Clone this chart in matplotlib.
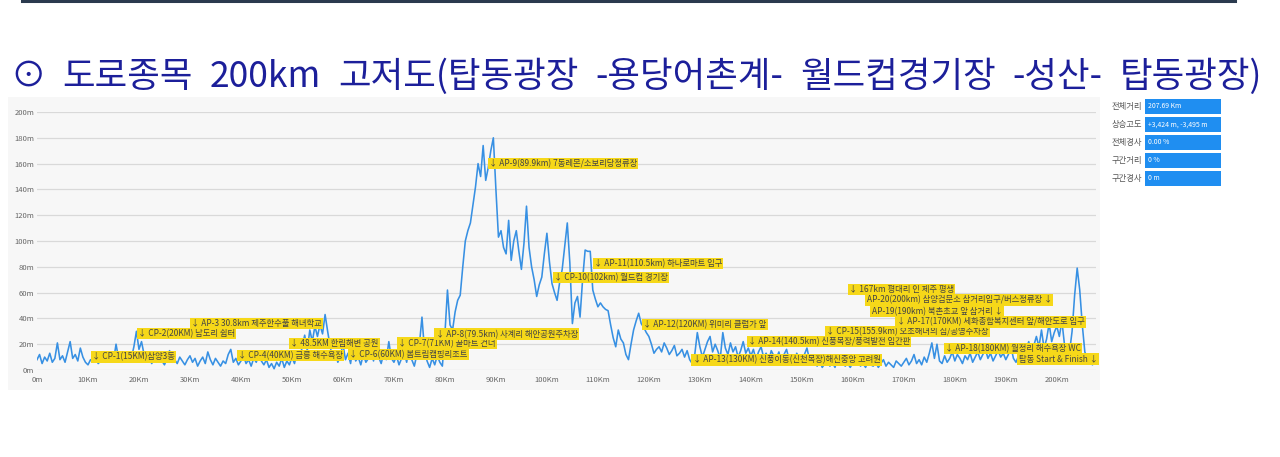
import numpy as np
import matplotlib
matplotlib.use("Agg")
import matplotlib.pyplot as plt
from matplotlib.patches import Rectangle

plt.rcParams['font.family'] = ['Noto Sans CJK KR', 'DejaVu Sans']

TITLE = "⊙ 도로종목 200km 고저도(탑동광장 -용당어촌계- 월드컵경기장 -성산- 탑동광장)"

STEP_KM = 0.5
TOTAL_KM = 207.69
# elevation (m) every 0.5 km
elev = [
    8, 12, 5, 10, 7, 13, 6, 9, 21, 8, 11, 6, 14, 22, 9, 12, 7, 17, 10, 6,        # 0-10
    4, 8, 6, 9, 5, 7, 10, 6, 8, 12, 7, 20, 9, 6, 11, 7, 14, 9, 18, 30,           # 10-20
    16, 22, 12, 8, 10, 5, 9, 6, 11, 7, 4, 9, 15, 6, 8, 5, 10, 7, 4, 8,           # 20-30
    11, 6, 9, 3, 7, 10, 5, 14, 8, 4, 9, 6, 3, 7, 5, 12, 16, 6, 9, 4,             # 30-40
    7, 11, 5, 8, 3, 9, 6, 12, 7, 4, 8, 2, 5, 1, 6, 3, 9, 2, 7, 4,                # 40-50
    10, 5, 14, 8, 18, 27, 15, 31, 22, 34, 26, 35, 28, 43, 30, 18, 9, 14, 6, 11,  # 50-60
    20, 8, 13, 5, 19, 7, 10, 4, 12, 6, 9, 15, 7, 23, 10, 5, 13, 8, 22, 9,        # 60-70
    6, 11, 4, 9, 14, 6, 18, 8, 3, 12, 20, 41, 15, 7, 2, 9, 4, 11, 6, 3,          # 70-80
    28, 62, 35, 31, 45, 54, 58, 80, 100, 108, 114, 128, 142, 160, 150, 174, 147, 157, 170, 180,  # 80-90
    140, 103, 108, 95, 90, 116, 85, 100, 108, 92, 78, 98, 127, 95, 80, 70, 57, 66, 72, 90,      # 90-100
    106, 84, 67, 60, 54, 68, 78, 96, 114, 83, 36, 52, 57, 41, 70, 93, 92, 92, 62, 55,           # 100-110
    49, 52, 49, 47, 46, 35, 25, 18, 31, 24, 21, 12, 8, 20, 31, 38, 44, 36, 33, 29,              # 110-120
    26, 20, 13, 16, 18, 14, 21, 17, 12, 15, 19, 11, 13, 16, 10, 15, 8, 5, 12, 29,               # 120-130
    18, 10, 16, 22, 26, 14, 20, 15, 9, 29, 17, 12, 21, 14, 18, 10, 15, 22, 13, 17,              # 130-140
    11, 16, 8, 14, 18, 10, 13, 7, 15, 11, 9, 14, 6, 12, 16, 8, 11, 5, 13, 9,                    # 140-150
    7, 12, 17, 8, 4, 6, 3, 7, 2, 5, 8, 3, 6, 2, 9, 4, 7, 3, 5, 2,                               # 150-160
    6, 4, 10, 3, 5, 2, 7, 4, 3, 6, 2, 5, 8, 3, 6, 4, 2, 7, 5, 3,                                # 160-170
    6, 9, 4, 7, 12, 5, 8, 4, 10, 6, 13, 21, 9, 20, 7, 5, 11, 6, 9, 14,                          # 170-180
    7, 12, 9, 5, 11, 8, 13, 6, 10, 14, 8, 12, 16, 9, 13, 7, 11, 15, 10, 13,                     # 180-190
    8, 12, 18, 9, 6, 11, 14, 8, 16, 22, 13, 19, 26, 18, 31, 17, 24, 36, 22, 29,                 # 190-200
    34, 26, 38, 20, 18, 14, 30, 58, 79, 62, 35, 14, 9, 6, 4, 7,                                 # 200-207.5
]

y_ticks = list(range(0, 201, 20))
y_tick_labels = [f"{v}m" for v in y_ticks]
x_ticks = list(range(0, 201, 10))
x_tick_labels = ["0m"] + [f"{v}Km" for v in x_ticks[1:]]

label_texts = [
    "↓ CP-1(15KM)삼양3동",
    "↓ CP-2(20KM) 남도리 쉼터",
    "↓ AP-3 30.8km 제주한수풀 해녀학교",
    "↓ CP-4(40KM) 금릉 해수욕장",
    "↓ 48.5KM 한림해변 공원",
    "↓ CP-6(60KM) 봄트림캠핑리조트",
    "↓ CP-7(71KM) 꿀마트 건너",
    "↓ AP-8(79.5km) 사계리 해안공원주차장",
    "↓ AP-9(89.9km) 7동레몬/소보리당정류장",
    "↓ AP-11(110.5km) 하나로마트 입구",
    "↓ CP-10(102km) 월드컵 경기장",
    "↓ AP-12(120KM) 위미리 클럽가 앞",
    "↓ AP-13(130KM) 신풍이동(신천목장)해신중앙 고려원",
    "↓ AP-14(140.5km) 신풍목장/풍력발전 입간판",
    "↓ CP-15(155.9km) 오조해녀의 집/공영주차장",
    "↓ AP-17(170KM) 세화종합복지센터 앞/해안도로 입구",
    "↓ 167km 평대리 인 제주 평생",
    "AP-20(200km) 삼양검문소 삼거리입구/버스정류장 ↓",
    "AP-19(190km) 북촌초교 앞 삼거리 ↓",
    "↓ AP-18(180KM) 월정리 해수욕장 WC",
    "탑동 Start & Finish ↓",
]
label_km = [10.8, 19.8, 30.2, 39.4, 49.6, 61.2, 70.8, 78.2, 88.6, 109.2, 101.4,
            118.9, 128.6, 139.4, 154.8, 168.6, 159.2, 162.7, 163.7, 178.1, 192.5]
label_m = [10.3, 28.4, 36.2, 11.1, 20.7, 12.0, 20.7, 27.7, 160.2, 82.7, 71.6,
           35.4, 7.8, 22.0, 29.7, 37.4, 62.5, 54.3, 45.2, 16.8, 8.5]

panel_names = ["전체거리", "상승고도", "전체경사", "구간거리", "구간경사"]
panel_values = ["207.69 Km", "+3,424 m, -3,495 m", "0.00 %", "0 %", "0 m"]

W, H = 1280, 457
fig = plt.figure(figsize=(W / 100, H / 100), dpi=100)
fig.patch.set_facecolor("white")

def fx(px):
    return px / W

def fy(py):
    return 1 - py / H

# top rule
fig.add_artist(plt.Line2D([fx(22), fx(1235)], [fy(1), fy(1)], color="#2b3a4e", lw=2.2))

# title: words spread evenly so the line spans the same width as in the reference
TITLE_LEFT, TITLE_RIGHT = 10, 1262
words = TITLE.split(" ")
title_texts = [fig.text(0, fy(77), w, fontsize=25.5, color="#1c1f9a",
                        ha="left", va="center") for w in words]
renderer = fig.canvas.get_renderer()
widths = [t.get_window_extent(renderer).width for t in title_texts]
gap = (TITLE_RIGHT - TITLE_LEFT - sum(widths)) / (len(words) - 1)
xpos = TITLE_LEFT
for t, wdt in zip(title_texts, widths):
    t.set_x(fx(xpos))
    xpos += wdt + gap

# chart background
fig.add_artist(Rectangle((fx(8), fy(390)), fx(1100 - 8), (390 - 97) / H,
                         transform=fig.transFigure, facecolor="#f7f7f7", edgecolor="none", zorder=0))

ax = fig.add_axes([fx(37), fy(370), fx(1096 - 37), (370 - 112) / H])
ax.set_facecolor("none")
dist = np.arange(len(elev)) * STEP_KM
ax.plot(dist, elev, color="#3790e3", lw=1.15, zorder=3)
ax.set_xlim(0, TOTAL_KM)
ax.set_ylim(0, 200)
ax.set_yticks(y_ticks)
ax.set_yticklabels(y_tick_labels)
ax.set_xticks(x_ticks)
ax.set_xticklabels(x_tick_labels)
ax.tick_params(axis="both", length=0, labelsize=5.5, colors="#666666")
ax.tick_params(axis="y", pad=2)
ax.tick_params(axis="x", pad=4)
ax.grid(axis="y", color="#d9d9d9", lw=0.9)
ax.grid(axis="x", visible=False)
for s in ax.spines.values():
    s.set_visible(False)

for t, k, m in zip(label_texts, label_km, label_m):
    ax.text(k, m, t, fontsize=6.0, color="#444444", ha="left", va="center", zorder=5,
            bbox=dict(boxstyle="square,pad=0.15", facecolor="#f6d819", edgecolor="none"))

# side info panel
box_tops = [99, 117, 135, 153, 171]
for name, val, top in zip(panel_names, panel_values, box_tops):
    fig.add_artist(Rectangle((fx(1145), fy(top + 15)), fx(1221 - 1145), 15 / H,
                             transform=fig.transFigure, facecolor="#1f8ef1", edgecolor="none"))
    fig.text(fx(1142), fy(top + 7.5), name, fontsize=6.0, color="#555555", ha="right", va="center")
    fig.text(fx(1148), fy(top + 7.5), val, fontsize=5, color="white", ha="left", va="center")

fig.savefig("out.png", dpi=100)
